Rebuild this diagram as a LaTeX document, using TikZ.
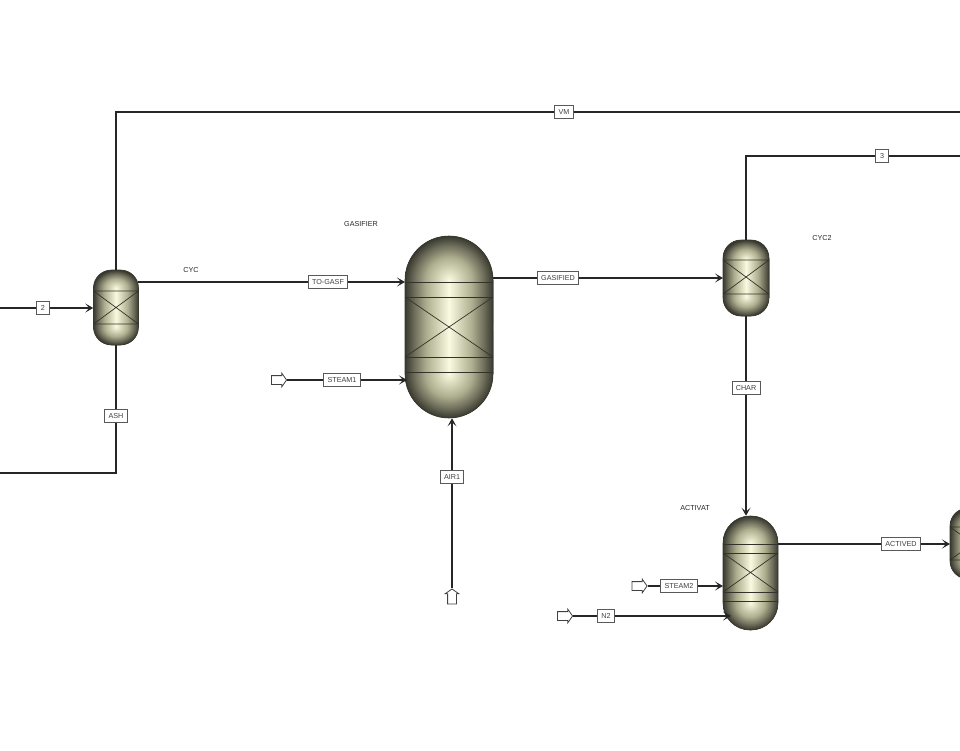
\documentclass[tikz,border=0pt]{standalone}
\usepackage{fontspec}
\setmainfont{Liberation Sans}
\usetikzlibrary{arrows.meta,shapes.arrows}
\definecolor{shelldark}{rgb}{0.22,0.22,0.18}
\definecolor{traygray}{rgb}{0.2,0.2,0.17}
\pgfdeclarehorizontalshading{vesselbody}{100bp}{rgb(0bp)=(0.22,0.22,0.18);rgb(25bp)=(0.22,0.22,0.18);
  rgb(30bp)=(0.42,0.42,0.35);rgb(37bp)=(0.68,0.68,0.56);rgb(50bp)=(0.98,0.98,0.88);
  rgb(63bp)=(0.68,0.68,0.56);rgb(70bp)=(0.42,0.42,0.35);rgb(75bp)=(0.22,0.22,0.18);rgb(100bp)=(0.22,0.22,0.18)}
\pgfdeclareradialshading{vesseldome}{\pgfpoint{0bp}{0bp}}{rgb(0bp)=(0.98,0.98,0.88);
  rgb(13bp)=(0.68,0.68,0.56);rgb(20bp)=(0.42,0.42,0.35);rgb(25bp)=(0.22,0.22,0.18);
  rgb(50bp)=(0.22,0.22,0.18)}

\begin{document}
\begin{tikzpicture}[x=1pt,y=-1pt,
  vessel/.style n args={4}{draw=shelldark,line width=.6pt,fill=shelldark,inner sep=0pt,
    minimum width=#1pt,minimum height=#2pt,rounded corners=#3pt,
    path picture={
      \pgfmathsetmacro{\halfw}{#1/2}
      \pgfmathsetmacro{\tanline}{#2/2-#4}
      \pgfmathsetmacro{\domeup}{#2/2}
      \pgfmathsetmacro{\domedn}{#2/2-2*#4}
      \path[sharp corners,shading=vesselbody] (-\halfw,-\tanline) rectangle (\halfw,\tanline);
      \path[sharp corners,shading=vesseldome] (-\halfw,-\domeup) rectangle (\halfw,-\domedn);
      \path[sharp corners,shading=vesseldome] (-\halfw,\domedn) rectangle (\halfw,\domeup);
      \path[sharp corners,shading=vesselbody] (-\halfw,-\tanline) rectangle (\halfw,\tanline);
    }},
  tray/.style={draw=traygray,line width=.7pt},
  stream/.style={line width=1.5pt,draw=black!85},
  feed/.style={stream,-{Stealth[length=8pt,width=9pt,inset=4pt]}},
  tag/.style={draw=black!65,line width=1pt,fill=white,inner sep=1pt,minimum height=13pt,
    minimum width=13pt,inner xsep=3.8pt,font=\fontsize{7.2}{8}\selectfont,text=black!75},
  lab/.style={font=\fontsize{7.2}{8}\selectfont,text=black!85},
  source/.style={single arrow,draw=black!75,line width=.8pt,fill=white,inner sep=4pt,
    minimum height=15pt,single arrow head extend=2.5pt,single arrow tip angle=110}]

\clip (0,0) rectangle (960,750);

% separators and columns
\node[vessel={45}{75}{18}{18}] (CYC) at (116,307.5) {};
\draw[tray] (93.5,291) -- (138.5,291) (93.5,324) -- (138.5,324) (93.5,291) -- (138.5,324) (93.5,324) -- (138.5,291);

\node[vessel={88}{182}{44}{44}] (GASIFIER) at (449,327) {};
\draw[tray] (405,282) -- (493,282) (405,297) -- (493,297) (405,357) -- (493,357) (405,372) -- (493,372);
\draw[tray] (405,297) -- (493,357) (405,357) -- (493,297);

\node[vessel={46}{76}{18}{19}] (CYC2) at (746,278) {};
\draw[tray] (723,260) -- (769,260) (723,294) -- (769,294) (723,260) -- (769,294) (723,294) -- (769,260);

\node[vessel={55}{114}{27}{27}] (ACTIVAT) at (750.5,573) {};
\draw[tray] (723,544) -- (778,544) (723,553) -- (778,553) (723,592) -- (778,592) (723,601) -- (778,601);
\draw[tray] (723,553) -- (778,592) (723,592) -- (778,553);

\node[vessel={46}{71}{18}{18}] (CYC3) at (973,543.5) {};
\draw[tray] (950,527) -- (996,527) (950,560) -- (996,560) (950,527) -- (996,560) (950,560) -- (996,527);

% stream tags
\node[tag] (s2) at (43,308) {2};
\node[tag] (VM) at (564,112) {VM};
\node[tag] (TOGASF) at (328,282) {TO-GASF};
\node[tag] (STEAM1) at (342,380) {STEAM1};
\node[tag] (AIR1) at (452,477) {AIR1};
\node[tag] (GASIFIED) at (558,278) {GASIFIED};
\node[tag] (s3) at (882,156) {3};
\node[tag] (CHAR) at (746,388) {CHAR};
\node[tag] (ASH) at (116,416) {ASH};
\node[tag] (ACTIVED) at (901,544) {ACTIVED};
\node[tag] (STEAM2) at (679,586) {STEAM2};
\node[tag] (N2) at (606,616) {N2};

% block names
\node[lab] (labCYC) at (191,270) {CYC};
\node[lab] (labGASIFIER) at (361,224.5) {GASIFIER};
\node[lab] (labCYC2) at (822,238) {CYC2};
\node[lab] (labACTIVAT) at (695,508) {ACTIVAT};

% inlet arrows
\node[source] (inS1) at (277.5,380) {};
\node[source,shape border rotate=90] (inA1) at (452,598) {};
\node[source] (inS2) at (638,586) {};
\node[source] (inN2) at (563.5,616) {};

% free ends at the picture edge
\coordinate (edge2) at (0,308);
\coordinate (edgeVM) at (960,112);
\coordinate (edge3) at (960,156);
\coordinate (edgeASH) at (0,473);
\coordinate (inGasT) at (405,282);
\coordinate (inGasS) at (407,380);
\coordinate (outCyc) at (138,282);
\coordinate (outGas) at (493,278);
\coordinate (inCyc2) at (723,278);
\coordinate (outAct) at (778,544);
\coordinate (inCyc3) at (950,544);
\coordinate (inActS) at (723,586);
\coordinate (inActN) at (731,616);

\draw[stream] (edge2) -- (s2);
\draw[feed] (s2) -- (CYC.west |- s2);
\draw[stream] (CYC.north) |- (VM);
\draw[stream] (VM) -- (edgeVM);
\draw[stream] (outCyc) -- (TOGASF);
\draw[feed] (TOGASF) -- (inGasT);
\draw[stream] (inS1) -- (STEAM1);
\draw[feed] (STEAM1) -- (inGasS);
\draw[stream] (inA1) -- (AIR1);
\draw[feed] (AIR1) -- (GASIFIER.south -| AIR1);
\draw[stream] (outGas) -- (GASIFIED);
\draw[feed] (GASIFIED) -- (inCyc2);
\draw[stream] (CYC2.north) |- (s3);
\draw[stream] (s3) -- (edge3);
\draw[stream] (CYC2.south) -- (CHAR);
\draw[feed] (CHAR) -- (ACTIVAT.north -| CHAR);
\draw[stream] (CYC.south) -- (ASH);
\draw[stream] (ASH) |- (edgeASH);
\draw[stream] (outAct) -- (ACTIVED);
\draw[feed] (ACTIVED) -- (inCyc3);
\draw[stream] (inS2) -- (STEAM2);
\draw[feed] (STEAM2) -- (inActS);
\draw[stream] (inN2) -- (N2);
\draw[feed] (N2) -- (inActN);
\end{tikzpicture}
\end{document}
